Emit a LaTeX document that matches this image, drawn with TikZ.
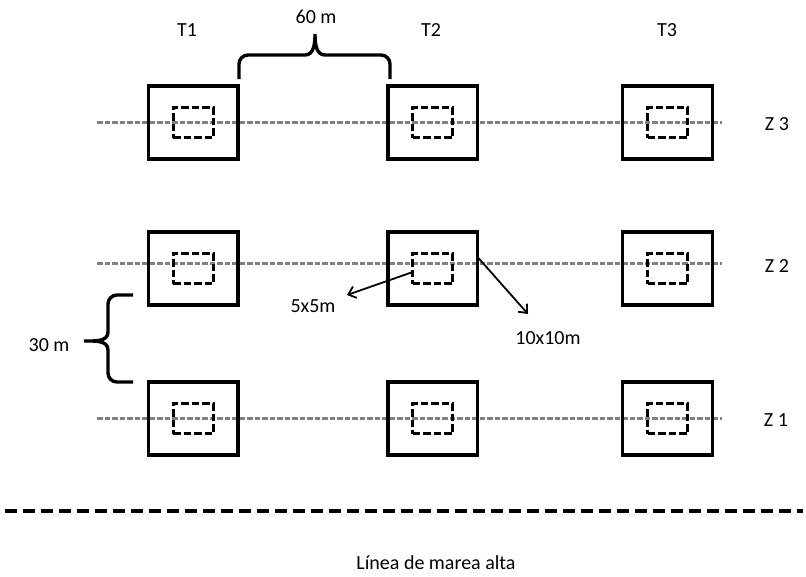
\documentclass[tikz,border=0pt]{standalone}
\usepackage{fontspec}
\setmainfont{Carlito}
\usetikzlibrary{arrows.meta}
\tikzset{
  outerbox/.style={draw=black, line width=3.4pt, minimum width=89.5pt, minimum height=73pt, inner sep=0pt, outer sep=0pt},
  innerbox/.style={draw=black, line width=3.2pt, dash pattern=on 7.5pt off 3pt, minimum width=40pt, minimum height=30pt, inner sep=0pt, outer sep=0pt},
  zoneline/.style={draw=black!50, line width=3pt, dash pattern=on 5.5pt off 2pt},
  shoreline/.style={draw=black, line width=3.4pt, dash pattern=on 12pt off 6pt},
  bracestyle/.style={draw=black, line width=3.4pt},
  arr/.style={draw=black, line width=1.8pt, -{Straight Barb[length=7pt,width=12pt,line width=1.8pt]}},
  lbl/.style={font=\fontsize{20}{24}\selectfont, inner sep=0pt}
}
\begin{document}
\begin{tikzpicture}[x=1pt,y=-1pt]
\useasboundingbox (0,0) rectangle (806,576);
% zone lines
\coordinate (z3a) at (97,122); \coordinate (z3b) at (722,122);
\coordinate (z2a) at (97,263); \coordinate (z2b) at (722,263);
\coordinate (z1a) at (97,418); \coordinate (z1b) at (722,418);
\draw[zoneline] (z3a) -- (z3b);
\draw[zoneline] (z2a) -- (z2b);
\draw[zoneline] (z1a) -- (z1b);
% boxes
\foreach \c/\x in {1/193.3,2/432.8,3/667.5}{
  \foreach \r/\y in {3/122.5,2/268.5,1/418.5}{
    \node[outerbox] (b\c\r) at (\x,\y) {};
    \node[innerbox] (i\c\r) at (\x,\y) {};
  }
}
% column labels
\node[lbl] (t1) at (187,30) {T1};
\node[lbl] (t2) at (431,30) {T2};
\node[lbl] (t3) at (667,30) {T3};
% zone labels
\node[lbl] (zl3) at (777,124) {Z 3};
\node[lbl] (zl2) at (777,266) {Z 2};
\node[lbl] (zl1) at (776,420) {Z 1};
% top brace
\node[lbl] (d60) at (316,17) {60 m};
\draw[bracestyle] (239,79) -- (239,64) to[out=90,in=180] (248,55) -- (305,55)
  to[out=0,in=-90] (315,34) to[out=-90,in=180] (325,55) -- (381,55)
  to[out=0,in=90] (390,64) -- (390,79);
% left brace
\node[lbl] (d30) at (49,345) {30 m};
\draw[bracestyle] (133,295) -- (117,295) to[out=180,in=90] (108,304) -- (108,332)
  to[out=-90,in=0] (84,341) to[out=0,in=90] (108,350) -- (108,373)
  to[out=-90,in=180] (117,382) -- (133,382);
% size labels and arrows
\node[lbl] (s5) at (313,306) {5x5m};
\node[lbl] (s10) at (548,338) {10x10m};
\coordinate (a1s) at (i22.west |- 0,272);
\coordinate (a1e) at (347,295);
\coordinate (a2s) at (b22.east |- 0,257);
\coordinate (a2e) at (528,314);
\draw[arr] (a1s) -- (a1e);
\draw[arr] (a2s) -- (a2e);
% shoreline
\coordinate (sl1) at (5,511); \coordinate (sl2) at (803,511);
\draw[shoreline] (sl1) -- (sl2);
\node[lbl] (shore) at (436,563) {Línea de marea alta};
\end{tikzpicture}
\end{document}
